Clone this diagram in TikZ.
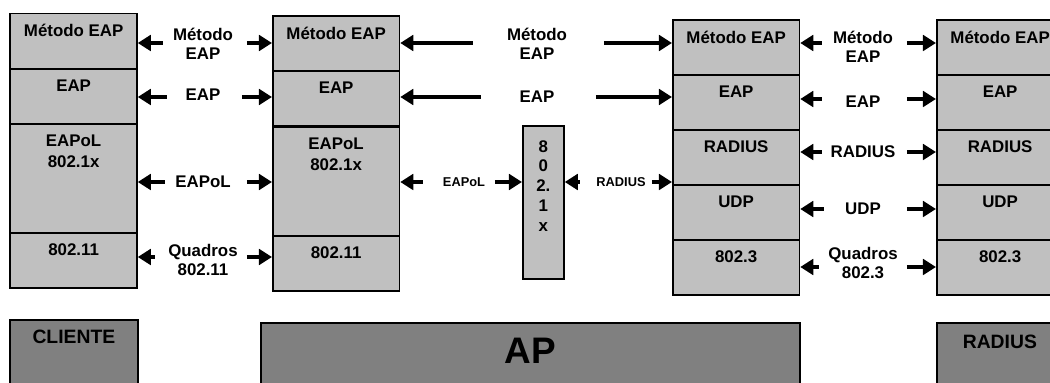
\documentclass[tikz,border=0pt]{standalone}
\usepackage{fontspec}
\setmainfont{Liberation Sans}
\usetikzlibrary{arrows.meta}
\definecolor{lyrgray}{HTML}{C0C0C0}
\definecolor{sysgray}{HTML}{808080}

\begin{document}
\begin{tikzpicture}[scale=0.2,
  lyr/.style={draw=black, line width=1pt, fill=lyrgray, anchor=north west,
    minimum width=2.53cm, minimum height=1.1cm, label={[lyrtxt]north:#1}},
  lyrtxt/.style={anchor=north, yshift=-0.23cm, align=center,
    font=\fontsize{9.6}{11.9}\selectfont\bfseries},
  tall/.style={minimum height=2.18cm},
  sys/.style={draw=black, line width=1pt, fill=sysgray, anchor=north west, minimum height=1.6cm},
  systxt/.style={anchor=north, font=\fontsize{11}{13}\selectfont\bfseries},
  lbl/.style={align=center, font=\fontsize{9.6}{10.8}\selectfont\bfseries},
  sml/.style={font=\fontsize{7.3}{9}\selectfont\bfseries},
  arr/.style={line width=2.4pt, -{Triangle[length=0.26cm,width=0.31cm]}}]
 	\tikzstyle{every node}+=[inner sep=0pt]
 	\clip (0,0) rectangle (105,-38.3);
 	% cliente
 	\node [lyr={Método EAP}] (c1) at (0.95,-1.27) {};
 	\node [lyr={EAP}] (c2) at (0.95,-6.8) {};
 	\node [lyr={EAPoL\\802.1x}, tall] (c3) at (0.95,-12.3) {};
 	\node [lyr={802.11}] (c4) at (0.95,-23.2) {};
 	% ap
 	\node [lyr={Método EAP}] (a1) at (27.2,-1.5) {};
 	\node [lyr={EAP}] (a2) at (27.2,-7.0) {};
 	\node [lyr={EAPoL\\802.1x}, tall] (a3) at (27.2,-12.6) {};
 	\node [lyr={802.11}] (a4) at (27.2,-23.5) {};
 	\node [draw=black, line width=1pt, fill=lyrgray, anchor=north west, minimum width=0.82cm, minimum height=3.06cm,
 	  label={[lyrtxt, yshift=-0.07cm, font=\fontsize{9.6}{11.3}\selectfont\bfseries]north:8\\0\\2.\\1\\x}] (x1) at (52.2,-12.5) {};
 	% lado servidor do ap
 	\node [lyr={Método EAP}] (s1) at (67.2,-1.9) {};
 	\node [lyr={EAP}] (s2) at (67.2,-7.4) {};
 	\node [lyr={RADIUS}] (s3) at (67.2,-12.9) {};
 	\node [lyr={UDP}] (s4) at (67.2,-18.4) {};
 	\node [lyr={802.3}] (s5) at (67.2,-23.9) {};
 	% radius
 	\node [lyr={Método EAP}] (r1) at (93.6,-1.9) {};
 	\node [lyr={EAP}] (r2) at (93.6,-7.4) {};
 	\node [lyr={RADIUS}] (r3) at (93.6,-12.9) {};
 	\node [lyr={UDP}] (r4) at (93.6,-18.4) {};
 	\node [lyr={802.3}] (r5) at (93.6,-23.9) {};
 	% caixas de baixo
 	\node [sys, minimum width=2.56cm, label={[systxt, yshift=-0.22cm]north:CLIENTE}] (cli) at (0.9,-31.9) {};
 	\node [sys, minimum width=10.78cm, label={[systxt, yshift=-0.32cm, font=\fontsize{21}{25}\selectfont\bfseries]north:AP}] (ap) at (26.0,-32.2) {};
 	\node [sys, minimum width=2.52cm, label={[systxt, yshift=-0.26cm]north:RADIUS}] (rad) at (93.6,-32.2) {};
 	% cliente <-> ap
 	\node [lbl] (ca1) at (20.3,-4.4) {Método\\EAP};
 	\node [lbl] (ca2) at (20.3,-9.5) {EAP};
 	\node [lbl] (ca3) at (20.3,-18.2) {EAPoL};
 	\node [lbl] (ca4) at (20.3,-26.0) {Quadros\\802.11};
 	\coordinate (p1) at (16.3,-4.3);
 	\coordinate (q1) at (24.7,-4.3);
 	\coordinate (p2) at (16.7,-9.7);
 	\coordinate (q2) at (24.2,-9.7);
 	\coordinate (p3) at (16.5,-18.2);
 	\coordinate (q3) at (24.7,-18.2);
 	\coordinate (p4) at (15.5,-25.7);
 	\coordinate (q4) at (24.7,-25.7);
 	\draw [arr] (p1) -- (p1 -| c1.east);
 	\draw [arr] (q1) -- (q1 -| a1.west);
 	\draw [arr] (p2) -- (p2 -| c2.east);
 	\draw [arr] (q2) -- (q2 -| a2.west);
 	\draw [arr] (p3) -- (p3 -| c3.east);
 	\draw [arr] (q3) -- (q3 -| a3.west);
 	\draw [arr] (p4) -- (p4 -| c4.east);
 	\draw [arr] (q4) -- (q4 -| a4.west);
 	% ap <-> servidor
 	\node [lbl] (as1) at (53.7,-4.4) {Método\\EAP};
 	\node [lbl] (as2) at (53.7,-9.7) {EAP};
 	\node [sml] (ax) at (46.4,-18.2) {EAPoL};
 	\node [sml] (xs) at (62.1,-18.2) {RADIUS};
 	\coordinate (p5) at (47.3,-4.3);
 	\coordinate (q5) at (60.4,-4.3);
 	\coordinate (p6) at (48.1,-9.7);
 	\coordinate (q6) at (59.6,-9.7);
 	\coordinate (p7) at (42.3,-18.2);
 	\coordinate (q7) at (49.5,-18.2);
 	\coordinate (p8) at (58.0,-18.2);
 	\coordinate (q8) at (65.2,-18.2);
 	\draw [arr] (p5) -- (p5 -| a1.east);
 	\draw [arr] (q5) -- (q5 -| s1.west);
 	\draw [arr] (p6) -- (p6 -| a2.east);
 	\draw [arr] (q6) -- (q6 -| s2.west);
 	\draw [arr] (p7) -- (p7 -| a3.east);
 	\draw [arr] (q7) -- (q7 -| x1.west);
 	\draw [arr] (p8) -- (p8 -| x1.east);
 	\draw [arr] (q8) -- (q8 -| s3.west);
 	% servidor <-> radius
 	\node [lbl] (sr1) at (86.3,-4.7) {Método\\EAP};
 	\node [lbl] (sr2) at (86.3,-10.2) {EAP};
 	\node [lbl] (sr3) at (86.3,-15.2) {RADIUS};
 	\node [lbl] (sr4) at (86.3,-20.9) {UDP};
 	\node [lbl] (sr5) at (86.3,-26.3) {Quadros\\802.3};
 	\coordinate (p9) at (82.2,-4.3);
 	\coordinate (q9) at (90.7,-4.3);
 	\coordinate (p10) at (82.2,-9.9);
 	\coordinate (q10) at (90.7,-9.9);
 	\coordinate (p11) at (82.2,-15.2);
 	\coordinate (q11) at (90.7,-15.2);
 	\coordinate (p12) at (82.4,-20.9);
 	\coordinate (q12) at (90.7,-20.9);
 	\coordinate (p13) at (81.9,-26.7);
 	\coordinate (q13) at (90.7,-26.7);
 	\draw [arr] (p9) -- (p9 -| s1.east);
 	\draw [arr] (q9) -- (q9 -| r1.west);
 	\draw [arr] (p10) -- (p10 -| s2.east);
 	\draw [arr] (q10) -- (q10 -| r2.west);
 	\draw [arr] (p11) -- (p11 -| s3.east);
 	\draw [arr] (q11) -- (q11 -| r3.west);
 	\draw [arr] (p12) -- (p12 -| s4.east);
 	\draw [arr] (q12) -- (q12 -| r4.west);
 	\draw [arr] (p13) -- (p13 -| s5.east);
 	\draw [arr] (q13) -- (q13 -| r5.west);
\end{tikzpicture}
\end{document}
